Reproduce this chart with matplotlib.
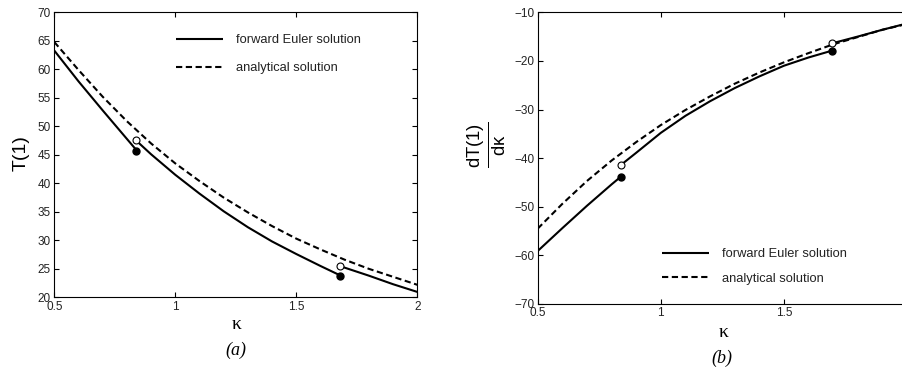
import matplotlib
matplotlib.use("Agg")
import matplotlib.pyplot as plt

# ---------------- data ----------------
kappa_an = [0.5, 0.6, 0.7, 0.8, 0.9, 1.0, 1.1, 1.2, 1.3, 1.4, 1.5, 1.6, 1.7, 1.8, 1.9, 2.0]
T_an = [64.8, 59.9, 55.2, 50.9, 47.0, 43.5, 40.4, 37.5, 34.9, 32.5, 30.3, 28.4, 26.6, 25.0, 23.6, 22.2]
dT_an = [-54.5, -49.4, -44.7, -40.5, -36.7, -33.2, -30.1, -27.3, -24.7, -22.4, -20.3, -18.4, -16.6, -15.1, -13.6, -12.4]

# forward Euler (piecewise, three segments)
kA_seg1 = [0.5, 0.6, 0.7, 0.8, 0.836]
T_seg1 = [63.3, 57.9, 52.8, 47.8, 46.0]
kA_seg2 = [0.836, 0.9, 1.0, 1.1, 1.2, 1.3, 1.4, 1.5, 1.6, 1.679]
T_seg2 = [47.6, 45.1, 41.5, 38.2, 35.1, 32.3, 29.8, 27.6, 25.5, 23.9]
kA_seg3 = [1.679, 1.8, 1.9, 2.0]
T_seg3 = [25.5, 23.8, 22.3, 20.95]
kA_pts = [0.836, 1.679]
T_filled = [45.75, 23.75]
T_open = [47.6, 25.55]

kB_seg1 = [0.5, 0.6, 0.7, 0.8, 0.838]
dT_seg1 = [-59.1, -54.4, -49.8, -45.4, -43.8]
kB_seg2 = [0.838, 0.9, 1.0, 1.1, 1.2, 1.3, 1.4, 1.5, 1.6, 1.695]
dT_seg2 = [-41.4, -38.9, -34.8, -31.3, -28.3, -25.6, -23.2, -21.0, -19.3, -17.9]
kB_seg3 = [1.695, 1.8, 1.9, 2.0]
dT_seg3 = [-16.4, -15.0, -13.6, -12.3]
kB_pts = [0.838, 1.695]
dT_filled = [-43.8, -17.96]
dT_open = [-41.4, -16.4]

xticksA = [0.5, 1, 1.5, 2]
xticklabelsA = ["0.5", "1", "1.5", "2"]
xticksB = [0.5, 1, 1.5]
xticklabelsB = ["0.5", "1", "1.5"]
yticksA = [20, 25, 30, 35, 40, 45, 50, 55, 60, 65, 70]
yticksB = [-70, -60, -50, -40, -30, -20, -10]

label_euler = "forward Euler solution"
label_an = "analytical solution"

# ---------------- style ----------------
plt.rcParams['font.family'] = ['Liberation Sans', 'DejaVu Sans']
plt.rcParams['mathtext.fontset'] = 'custom'
plt.rcParams['mathtext.rm'] = 'Liberation Sans'
plt.rcParams['mathtext.it'] = 'Liberation Sans:italic'

LW = 1.5
DASH = (3.0, 1.7)
tick_color = '#222222'

fig = plt.figure(figsize=(9.03, 3.74), dpi=100)
axA = fig.add_axes([0.0601, 0.205, 0.402, 0.762])
axB = fig.add_axes([0.5955, 0.1872, 0.4089, 0.780])


def style_axes(ax):
    for s in ax.spines.values():
        s.set_linewidth(0.8)
    ax.tick_params(direction='in', top=True, right=True, length=3.5, width=0.8,
                   labelsize=8.5, pad=2.5, colors='black', labelcolor=tick_color)


def draw(ax, k_an, v_an, segs, kpts, vfilled, vopen):
    ax.plot(k_an, v_an, color='black', lw=LW, dashes=DASH, label=label_an, zorder=2)
    first = True
    for ks, vs in segs:
        ax.plot(ks, vs, color='black', lw=LW, solid_capstyle='butt',
                label=label_euler if first else None, zorder=3)
        first = False
    ax.plot(kpts, vfilled, linestyle='none', marker='o', ms=5.0, mfc='black',
            mec='black', zorder=5)
    ax.plot(kpts, vopen, linestyle='none', marker='o', ms=5.0, mfc='white',
            mec='black', mew=0.8, zorder=5)


draw(axA, kappa_an, T_an, [(kA_seg1, T_seg1), (kA_seg2, T_seg2), (kA_seg3, T_seg3)],
     kA_pts, T_filled, T_open)
draw(axB, kappa_an, dT_an, [(kB_seg1, dT_seg1), (kB_seg2, dT_seg2), (kB_seg3, dT_seg3)],
     kB_pts, dT_filled, dT_open)

for ax in (axA, axB):
    style_axes(ax)
    ax.set_xlim(0.5, 2)

axA.set_xticks(xticksA)
axA.set_xticklabels(xticklabelsA)
axB.set_xticks(xticksB)
axB.set_xticklabels(xticklabelsB)

axA.set_ylim(20, 70)
axA.set_yticks(yticksA)
axB.set_ylim(-70, -10)
axB.set_yticks(yticksB)

# axis labels
for ax, xy in ((axA, (0.5025, -0.097)), (axB, (0.502, -0.099))):
    ax.set_xlabel('κ', fontsize=14, family=['Liberation Serif', 'DejaVu Serif'], va='center')
    ax.xaxis.set_label_coords(*xy)

axA.set_ylabel('T(1)', fontsize=14, va='center')
axA.yaxis.set_label_coords(-0.0926, 0.506)
axB.set_ylabel(r'$\frac{\mathrm{dT(1)}}{\mathrm{d\kappa}}$', fontsize=19, va='center')
axB.yaxis.set_label_coords(-0.138, 0.545)

# captions
for ax, txt in ((axA, '(a)'), (axB, '(b)')):
    ax.text(0.5, -0.185, txt, transform=ax.transAxes, ha='center', va='center',
            fontsize=13, style='italic', family=['Liberation Serif', 'DejaVu Serif'])

# legends
def make_legend(ax, anchor, spacing):
    h, l = ax.get_legend_handles_labels()
    order = [l.index(label_euler), l.index(label_an)]
    leg = ax.legend([h[i] for i in order], [l[i] for i in order], loc='center left',
                    bbox_to_anchor=anchor, frameon=False, fontsize=9.3,
                    handlelength=3.65, handletextpad=1.0, labelspacing=spacing,
                    borderpad=0, borderaxespad=0)
    for t in leg.get_texts():
        t.set_color(tick_color)
    return leg

make_legend(axA, (0.335, 0.853), 1.25)
make_legend(axB, (0.336, 0.1286), 0.95)

fig.savefig('out.png', dpi=100)
